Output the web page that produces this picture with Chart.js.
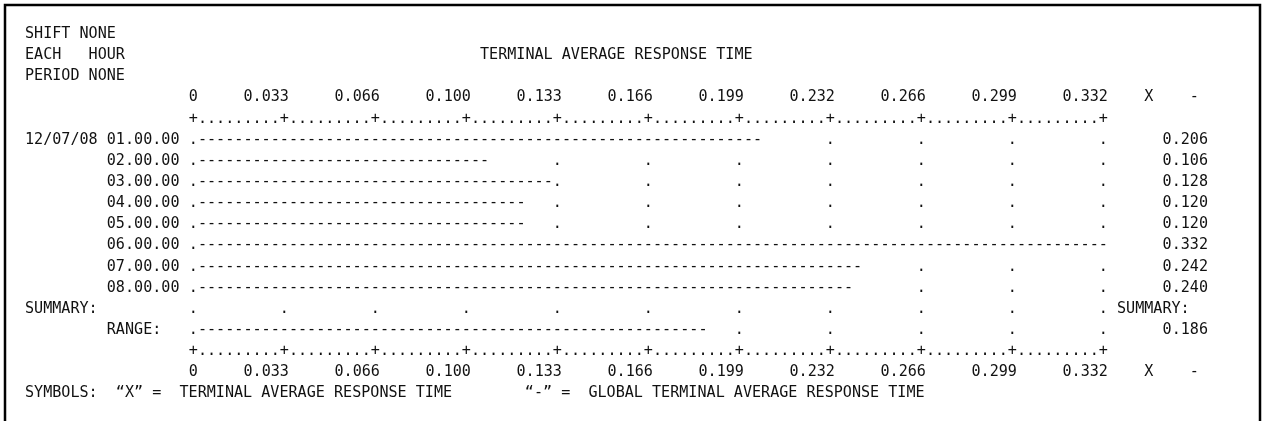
<!DOCTYPE html>
<html>
<head>
<meta charset="utf-8">
<script src="https://cdn.jsdelivr.net/npm/chart.js@4.4.1/dist/chart.umd.min.js"></script>
<style>
  body { margin: 0; background: #fff; }
  #wrap { width: 1263px; height: 421px; }
</style>
</head>
<body>
<div id="wrap"><canvas id="myChart"></canvas></div>
<script>
var rowLabels = ["12/07/08 01.00.00", "         02.00.00", "         03.00.00", "         04.00.00",
                 "         05.00.00", "         06.00.00", "         07.00.00", "         08.00.00",
                 "SUMMARY:", "         RANGE:"];
var responseTimes = [0.206, 0.106, 0.128, 0.120, 0.120, 0.332, 0.242, 0.240, null, 0.186];
var tickLabels = ["0", "0.033", "0.066", "0.100", "0.133", "0.166", "0.199", "0.232", "0.266", "0.299", "0.332"];
var xMax = 0.332;

var MONO = "DejaVu Sans Mono";
var FSIZE = 15.1;
var CW = 9.1;      // one character column
var LH = 21.15;    // one printed line
var X0 = 25;       // left text margin
var INK = "#111";

// draws the rest of the print-out: rulers, dashes, dots, side values, headers
var reportPlugin = {
    id: 'report',
    afterDraw: function(chart) {
        var ctx = chart.ctx;
        var area = chart.chartArea;
        var xs = chart.scales.x;
        var ys = chart.scales.y;
        var colW = xs.getPixelForValue(xMax / 100) - xs.getPixelForValue(0);

        ctx.save();
        ctx.strokeStyle = "#000";
        ctx.lineWidth = 2.5;
        ctx.strokeRect(5, 5, 1255, 500);

        ctx.fillStyle = INK;
        ctx.font = FSIZE + "px '" + MONO + "'";
        ctx.textBaseline = 'middle';

        function put(txt, x, y, align) {
            ctx.textAlign = align || 'left';
            ctx.fillText(txt, x, y);
        }

        // header
        put("SHIFT NONE", X0, area.top - LH * 4.5);
        put("EACH   HOUR", X0, area.top - LH * 3.5);
        put("PERIOD NONE", X0, area.top - LH * 2.5);
        put("TERMINAL AVERAGE RESPONSE TIME", X0 + 50 * CW, area.top - LH * 3.5);

        // X / - column headers next to tick labels
        [area.top - LH * 1.5, area.bottom + LH * 1.5].forEach(function(y) {
            put("X", area.right + 5 * CW, y, 'center');
            put("-", area.right + 10 * CW, y, 'center');
        });

        // rulers +.........+
        [area.top - LH * 0.5, area.bottom + LH * 0.5].forEach(function(y) {
            for (var k = 0; k <= 100; k++) {
                put(k % 10 === 0 ? "+" : ".", xs.getPixelForValue(k * xMax / 100), y, 'center');
            }
        });

        // bars as dash runs, dots on tick columns
        var meta = chart.getDatasetMeta(0);
        responseTimes.forEach(function(v, i) {
            var y = ys.getPixelForValue(i);
            var base = xs.getPixelForValue(0);
            var n = 0;
            if (v !== null) {
                var bar = meta.data[i];
                base = bar.base;
                n = Math.round((bar.x - bar.base) / colW);
            }
            for (var k = 1; k <= n; k++) {
                put("-", base + k * colW, y, 'center');
            }
            for (var t = 0; t <= 100; t += 10) {
                if (t === 0 || t > n) put(".", base + t * colW, y, 'center');
            }
            if (v === null) {
                put("SUMMARY:", area.right + 1.5 * CW, y, 'left');
            } else {
                put(v.toFixed(3), area.right + 11.5 * CW, y, 'right');
            }
        });

        // symbols line
        put("SYMBOLS:  \u201CX\u201D =  TERMINAL AVERAGE RESPONSE TIME        \u201C-\u201D =  GLOBAL TERMINAL AVERAGE RESPONSE TIME",
            X0, area.bottom + LH * 2.5);
        ctx.restore();
    }
};

var tickFont = { family: MONO, size: FSIZE, lineHeight: 1.2 };

var xAxis = function(pos, boxH, pad) {
    return {
        type: 'linear',
        position: pos,
        min: 0,
        max: xMax,
        afterFit: function(s) { s.height = boxH; },
        afterBuildTicks: function(s) {
            s.ticks = tickLabels.map(function(t, i) { return { value: i * xMax / 10 }; });
        },
        ticks: {
            callback: function(v, i) { return tickLabels[i]; },
            align: 'end',
            labelOffset: CW / 2,
            padding: pad,
            maxRotation: 0,
            autoSkip: false,
            color: INK,
            font: tickFont
        },
        grid: { display: false, drawTicks: false },
        border: { display: false }
    };
};

var ctx = document.getElementById("myChart").getContext("2d");

var data = {
    labels: rowLabels,
    datasets: [
        {
            label: "TERMINAL AVERAGE RESPONSE TIME",
            data: responseTimes,
            backgroundColor: "rgba(0,0,0,0)",
            borderWidth: 0,
            categoryPercentage: 1,
            barPercentage: 1
        }
    ]
};

var config = {
    type: 'bar',
    data: data,
    options: {
        indexAxis: 'y',
        responsive: true,
        maintainAspectRatio: false,
        animation: false,
        layout: { padding: { left: X0, right: 1263 - (X0 + 118.5 * CW), top: 0, bottom: 0 } },
        plugins: {
            legend: { display: false },
            tooltip: { enabled: false }
        },
        scales: {
            x: xAxis('top', 34 + 4.5 * LH, 1.5 * LH - 9.06),
            x2: xAxis('bottom', 421 - (34 + 14.5 * LH), 1.5 * LH - 9.06),
            y: {
                type: 'category',
                position: 'left',
                afterFit: function(s) { s.width = 18.5 * CW; },
                ticks: {
                    crossAlign: 'far',
                    autoSkip: false,
                    padding: 0,
                    color: INK,
                    font: tickFont
                },
                grid: { display: false, drawTicks: false },
                border: { display: false }
            }
        }
    },
    plugins: [reportPlugin]
};

var myChart = new Chart(ctx, config);
</script>
</body>
</html>
